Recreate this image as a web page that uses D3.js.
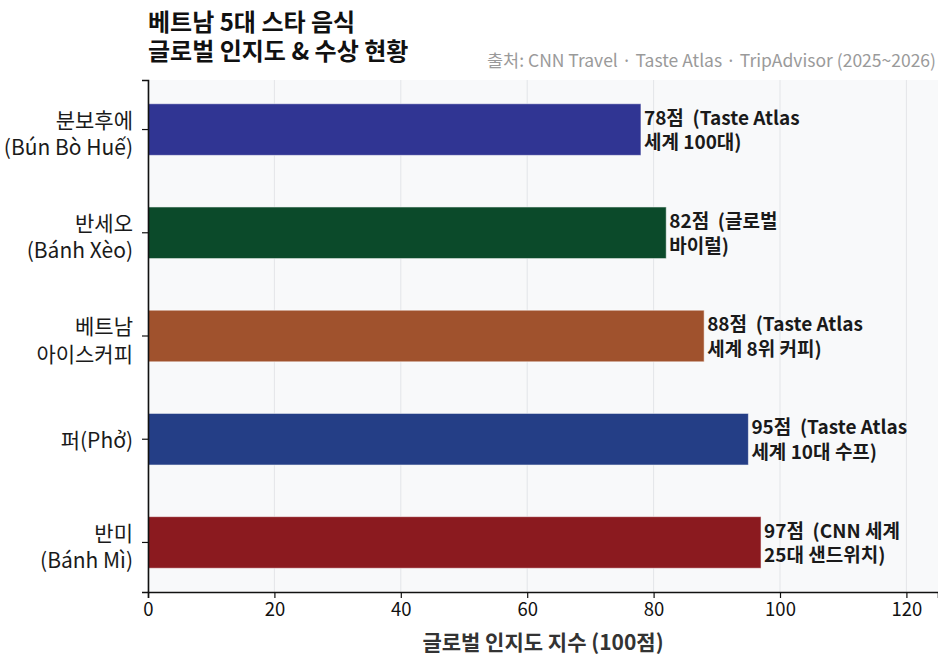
<!DOCTYPE html>
<html>
<head>
<meta charset="utf-8">
<script src="https://cdn.jsdelivr.net/npm/d3@7"></script>
<style>
  html, body { margin: 0; padding: 0; background: #ffffff; }
  svg { display: block; font-family: "Noto Sans CJK KR", "Noto Sans", sans-serif; }
  text.val { white-space: pre; }
</style>
</head>
<body>
<svg id="chart" width="938" height="658"></svg>
<script>
// Foods, top to bottom
const foodsKo = ["분보후에", "반세오", "베트남", "퍼(Phở)", "반미"];
const foodsSub = ["(Bún Bò Huế)", "(Bánh Xèo)", "아이스커피", "", "(Bánh Mì)"];
const scores = [78, 82, 88, 95, 97];
const noteLine1 = ["(Taste Atlas", "(글로벌", "(Taste Atlas", "(Taste Atlas", "(CNN 세계"];
const noteLine2 = ["세계 100대)", "바이럴)", "세계 8위 커피)", "세계 10대 수프)", "25대 샌드위치)"];
const barColors = ["#303593", "#0b4a2a", "#a0522d", "#243e86", "#8b1a1f"];
const xTicks = [0, 20, 40, 60, 80, 100, 120];

const svg = d3.select("#chart");
const W = 938, H = 658;
const m = { top: 80, right: 0, bottom: 66, left: 148 };
const pw = W - m.left - m.right, ph = H - m.top - m.bottom;

const x = d3.scaleLinear().domain([0, 125]).range([0, pw]);
const y = d3.scaleBand().domain(d3.range(scores.length)).range([0, ph])
  .paddingInner(0.5).paddingOuter(0.23);

const g = svg.append("g").attr("transform", `translate(${m.left},${m.top})`);

// plot background
g.append("rect").attr("width", pw).attr("height", ph).attr("fill", "#f8f9fa");

// vertical grid
g.selectAll("line.grid").data(xTicks).join("line")
  .attr("class", "grid")
  .attr("x1", d => x(d)).attr("x2", d => x(d))
  .attr("y1", 0).attr("y2", ph)
  .attr("stroke", "#e3e5e8").attr("stroke-width", 1);

// bars
g.selectAll("rect.bar").data(scores).join("rect")
  .attr("class", "bar")
  .attr("x", x(0))
  .attr("y", (d, i) => y(i))
  .attr("width", d => x(d) - x(0))
  .attr("height", y.bandwidth())
  .attr("fill", (d, i) => barColors[i])
  .attr("stroke", "#ffffff").attr("stroke-opacity", 0.55).attr("stroke-width", 1);

// value labels
const lab = g.selectAll("text.val").data(scores).join("text")
  .attr("class", "val")
  .attr("x", d => x(d) + 3)
  .attr("y", (d, i) => y(i) + y.bandwidth() / 2)
  .attr("font-size", 19).attr("font-weight", 700).attr("fill", "#1a1a1a");
lab.append("tspan").attr("x", d => x(d) + 3).attr("dy", "-0.25em")
  .text((d, i) => `${d}점  ${noteLine1[i]}`);
lab.append("tspan").attr("x", d => x(d) + 3).attr("dy", "1.3em")
  .text((d, i) => noteLine2[i]);

// x axis
const xAxis = g.append("g").attr("transform", `translate(0,${ph})`)
  .call(d3.axisBottom(x).tickValues(xTicks).tickSize(6).tickPadding(5));
xAxis.select(".domain").attr("stroke", "#111").attr("stroke-width", 1.6);
xAxis.selectAll(".tick line").attr("stroke", "#111").attr("stroke-width", 1.2);
xAxis.selectAll(".tick text").attr("font-size", 18.5).attr("fill", "#111")
  .attr("font-family", "'Noto Sans CJK KR', sans-serif");

// y axis
const yAxis = g.append("g")
  .call(d3.axisLeft(y).tickSize(6).tickPadding(6).tickFormat(""));
yAxis.select(".domain").attr("stroke", "#111").attr("stroke-width", 1.6);
yAxis.selectAll(".tick line").attr("stroke", "#111").attr("stroke-width", 1.2);

// category labels (two lines, or one when there is no subtitle)
const cat = g.selectAll("text.cat").data(foodsKo).join("text")
  .attr("class", "cat")
  .attr("x", -15)
  .attr("y", (d, i) => y(i) + y.bandwidth() / 2)
  .attr("text-anchor", "end")
  .attr("font-size", 21).attr("fill", "#1a1a1a");
cat.each(function(d, i) {
  const t = d3.select(this);
  if (foodsSub[i]) {
    t.append("tspan").attr("x", -15).attr("dy", "-0.08em").text(d);
    t.append("tspan").attr("x", -15).attr("dy", "1.3em").text(foodsSub[i]);
  } else {
    t.append("tspan").attr("x", -15).attr("dy", "0.4em").text(d);
  }
});

// axis title
svg.append("text")
  .attr("x", m.left + pw / 2).attr("y", 650)
  .attr("text-anchor", "middle")
  .attr("font-size", 21).attr("font-weight", 700).attr("fill", "#333")
  .text("글로벌 인지도 지수 (100점)");

// title
const title = svg.append("text").attr("x", 148).attr("y", 31)
  .attr("font-size", 24).attr("font-weight", 700).attr("fill", "#111");
title.append("tspan").attr("x", 148).text("베트남 5대 스타 음식");
title.append("tspan").attr("x", 148).attr("dy", 29).text("글로벌 인지도 & 수상 현황");

// source note
svg.append("text")
  .attr("x", 936).attr("y", 67)
  .attr("text-anchor", "end")
  .attr("font-size", 17.5).attr("fill", "#9a9a9a")
  .text("출처: CNN Travel · Taste Atlas · TripAdvisor (2025~2026)");
</script>
</body>
</html>
